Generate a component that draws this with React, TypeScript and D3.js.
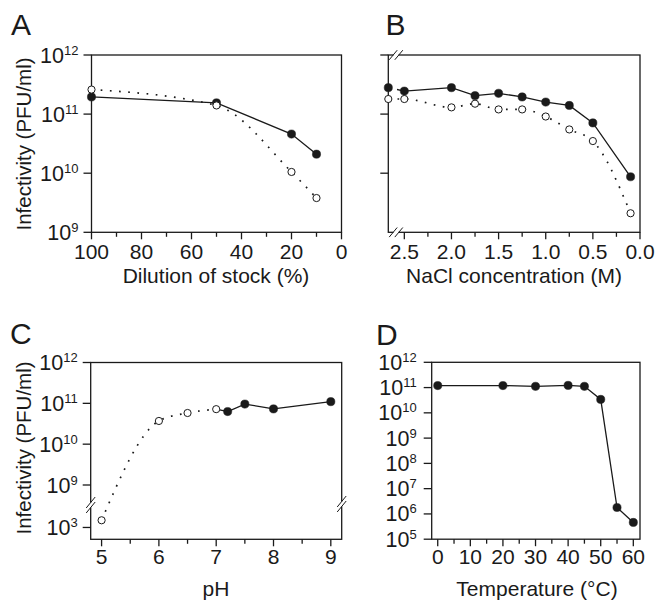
import React, { useEffect, useRef } from 'react';
import * as d3 from 'd3';

const W = 655;
const H = 603;
const FONT = '"Liberation Sans", Arial, Helvetica, sans-serif';
const INK = '#1a1a1a';

// A - dilution of stock (%)
const dilution = [100, 50, 20, 10];
const dilutionFilled = [1.95e11, 1.55e11, 4.6e10, 2.1e10];
const dilutionOpen = [2.6e11, 1.4e11, 1.05e10, 3.8e9];
const dilutionTicks = [100, 80, 60, 40, 20, 0];
const dilutionMinor = [90, 70, 50, 30, 10];

// B - NaCl concentration (M); first point sits beyond the axis break
const nacl = [2.67, 2.5, 2.0, 1.75, 1.5, 1.25, 1.0, 0.75, 0.5, 0.1];
const naclFilled = [2.8e11, 2.45e11, 2.8e11, 2.05e11, 2.25e11, 1.95e11, 1.6e11, 1.4e11, 7.1e10, 8.7e9];
const naclOpen = [1.8e11, 1.8e11, 1.3e11, 1.5e11, 1.2e11, 1.2e11, 9.1e10, 5.5e10, 3.5e10, 2.1e9];
const naclTicks = [2.5, 2.0, 1.5, 1.0, 0.5, 0.0];
const naclMinor = [2.25, 1.75, 1.25, 0.75, 0.25];

// C - pH
const phOpen = [5, 6, 6.5, 7];
const phOpenVal = [1.5e3, 3.7e10, 5.8e10, 7.2e10];
const phFilled = [7.2, 7.5, 8, 9];
const phFilledVal = [6.3e10, 9.6e10, 7.3e10, 1.1e11];
const phTicks = [5, 6, 7, 8, 9];
const phMinor = [5.5, 6.5, 7.5, 8.5];

// D - temperature
const temp = [0, 20, 30, 40, 45, 50, 55, 60];
const tempVal = [1.2e11, 1.2e11, 1.12e11, 1.22e11, 1.12e11, 3.4e10, 1.8e6, 4.6e5];
const tempTicks = [0, 10, 20, 30, 40, 50, 60];
const tempMinor = [5, 15, 25, 35, 45, 55];

// y tick exponents
const abExp = [12, 11, 10, 9];
const bExp = [12, 11, 10];
const cExp = [12, 11, 10, 9, 3];
const dExp = [12, 11, 10, 9, 8, 7, 6, 5];

type Pt = { x: number; y: number };
const zip = (xs: number[], ys: number[]): Pt[] => xs.map((x, i) => ({ x, y: ys[i] }));

function breakMark(g: any, cx: number, cy: number, vertical: boolean) {
  if (vertical) {
    g.append('rect').attr('x', cx - 2).attr('y', cy - 2.5).attr('width', 4).attr('height', 5).attr('fill', '#fff');
    [-2.5, 2.5].forEach(o => {
      g.append('line')
        .attr('x1', cx - 4.5).attr('y1', cy + o + 5.5)
        .attr('x2', cx + 4.5).attr('y2', cy + o - 5.5)
        .attr('stroke', INK).attr('stroke-width', 1);
    });
  } else {
    g.append('rect').attr('x', cx - 2.5).attr('y', cy - 2).attr('width', 5).attr('height', 4).attr('fill', '#fff');
    [-2.8, 2.8].forEach(o => {
      g.append('line')
        .attr('x1', cx + o - 4).attr('y1', cy + 4.8)
        .attr('x2', cx + o + 4).attr('y2', cy - 4.8)
        .attr('stroke', INK).attr('stroke-width', 1);
    });
  }
}

function drawPanel(svg: any, p: any) {
  const g = svg.append('g');
  const [x0, x1] = p.x.range();
  const { top, bottom } = p;

  g.append('rect')
    .attr('x', x0).attr('y', top)
    .attr('width', x1 - x0).attr('height', bottom - top)
    .attr('fill', 'none').attr('stroke', INK).attr('stroke-width', 1.3);

  // x ticks (outward)
  p.xTicks.forEach((t: number) => {
    g.append('line').attr('x1', p.x(t)).attr('x2', p.x(t))
      .attr('y1', bottom).attr('y2', bottom + 7)
      .attr('stroke', INK).attr('stroke-width', 1.3);
    g.append('text').attr('x', p.x(t)).attr('y', bottom + p.xLabelDy)
      .attr('text-anchor', 'middle').attr('font-size', 21).attr('fill', INK)
      .text(p.xFormat(t));
  });
  p.xMinor.forEach((t: number) => {
    g.append('line').attr('x1', p.x(t)).attr('x2', p.x(t))
      .attr('y1', bottom).attr('y2', bottom + 4.5)
      .attr('stroke', INK).attr('stroke-width', 1.3);
  });

  // y ticks
  p.yExp.forEach((e: number) => {
    const y = p.y(Math.pow(10, e));
    g.append('line').attr('x1', x0 - 8).attr('x2', x0)
      .attr('y1', y).attr('y2', y)
      .attr('stroke', INK).attr('stroke-width', 1.3);
    if (p.yLabels) {
      const txt = g.append('text').attr('x', x0 - p.yLabelGap).attr('y', y + 7.5)
        .attr('text-anchor', 'end').attr('font-size', 21.5).attr('fill', INK);
      txt.append('tspan').text('10');
      txt.append('tspan').attr('font-size', 13).attr('dy', -8).text(String(e));
    }
  });

  // axis titles
  g.append('text').attr('x', p.xTitleX).attr('y', p.xTitleY)
    .attr('text-anchor', 'middle').attr('font-size', 21).attr('fill', INK)
    .text(p.xTitle);
  if (p.yTitle) {
    g.append('text')
      .attr('transform', `translate(31,${p.yTitleY}) rotate(-90)`)
      .attr('text-anchor', 'middle').attr('font-size', 20.5).attr('fill', INK)
      .text(p.yTitle);
  }
  g.append('text').attr('x', p.letterX).attr('y', p.letterY)
    .attr('font-size', 30).attr('fill', INK).text(p.letter);

  return g;
}

function drawSeries(g: any, p: any, series: any[], clip?: string) {
  const byPx = (pts: Pt[]) => pts.slice().sort((a, b) => p.x(a.x) - p.x(b.x));
  const lineG = g.append('g');
  if (clip) lineG.attr('clip-path', `url(#${clip})`);
  series.forEach(s => {
    const gen = d3.line<Pt>()
      .x(d => p.x(d.x)).y(d => p.y(d.y))
      .curve(s.dotted ? d3.curveMonotoneX : d3.curveLinear);
    lineG.append('path')
      .attr('d', gen(byPx(s.line || s.pts)))
      .attr('fill', 'none').attr('stroke', INK)
      .attr('stroke-width', s.dotted ? 1.7 : 1.3)
      .attr('stroke-dasharray', s.dotted ? '1.7 7.5' : null);
  });
  // filled first, open on top
  series.slice().sort((a, b) => (a.open ? 1 : 0) - (b.open ? 1 : 0)).forEach(s => {
    g.selectAll(null).data(s.pts).enter().append('circle')
      .attr('cx', (d: Pt) => p.x(d.x)).attr('cy', (d: Pt) => p.y(d.y))
      .attr('r', s.open ? 3.6 : 4.1)
      .attr('fill', s.open ? '#fff' : INK)
      .attr('stroke', INK).attr('stroke-width', s.open ? 1 : 0.5);
  });
}

export default function App() {
  const ref = useRef<SVGSVGElement | null>(null);

  useEffect(() => {
    const svg = d3.select(ref.current);
    svg.selectAll('*').remove();
    svg.append('rect').attr('width', W).attr('height', H).attr('fill', '#fff');

    const yAB = d3.scaleLog().domain([1e9, 1e12]).range([232.3, 55]);
    const cLin = d3.scaleLinear().domain([9, 12]).range([485, 362.5]);
    const yC = (v: number) => {
      const l = Math.log10(v);
      return cLin(l >= 9 ? l : 7.96 + (l - 3));
    };
    const yD = d3.scaleLog().domain([1e5, 1e12]).range([539.2, 362.3]);

    const defs = svg.append('defs');
    defs.append('clipPath').attr('id', 'clipB')
      .append('rect').attr('x', 397).attr('y', 0).attr('width', 260).attr('height', 300);

    const fmtInt = d3.format('d');

    // Panel A
    const pA = {
      x: d3.scaleLinear().domain([100, 0]).range([91.5, 341.5]),
      y: yAB, top: 55, bottom: 232.3,
      xTicks: dilutionTicks, xMinor: dilutionMinor, xFormat: fmtInt, xLabelDy: 27,
      yExp: abExp, yLabels: true, yLabelGap: 13,
      xTitle: 'Dilution of stock (%)', xTitleX: 216, xTitleY: 283,
      yTitle: 'Infectivity (PFU/ml)', yTitleY: 144,
      letter: 'A', letterX: 11, letterY: 35,
    };
    const gA = drawPanel(svg, pA);
    drawSeries(gA, pA, [
      { pts: zip(dilution, dilutionFilled) },
      { pts: zip(dilution, dilutionOpen), open: true, dotted: true },
    ]);

    // Panel B
    const pB = {
      x: d3.scaleLinear().domain([2.67, 0]).range([388.3, 640]),
      y: yAB, top: 55, bottom: 232.3,
      xTicks: naclTicks, xMinor: naclMinor, xFormat: d3.format('.1f'), xLabelDy: 27,
      yExp: bExp, yLabels: false, yLabelGap: 13,
      xTitle: 'NaCl concentration (M)', xTitleX: 514, xTitleY: 283,
      yTitle: null, yTitleY: 0,
      letter: 'B', letterX: 385.5, letterY: 35,
    };
    const gB = drawPanel(svg, pB);
    drawSeries(gB, pB, [
      { pts: zip(nacl, naclFilled) },
      { pts: zip(nacl, naclOpen), open: true, dotted: true },
    ], 'clipB');
    breakMark(gB, 396, 55, false);
    breakMark(gB, 396, 232.3, false);

    // Panel C
    const pC = {
      x: d3.scaleLinear().domain([4.81, 9.19]).range([90.7, 341.7]),
      y: yC, top: 362.5, bottom: 539.3,
      xTicks: phTicks, xMinor: phMinor, xFormat: fmtInt, xLabelDy: 25,
      yExp: cExp, yLabels: true, yLabelGap: 13,
      xTitle: 'pH', xTitleX: 216, xTitleY: 596,
      yTitle: 'Infectivity (PFU/ml)', yTitleY: 448,
      letter: 'C', letterX: 10, letterY: 344,
    };
    const gC = drawPanel(svg, pC);
    const openC = zip(phOpen, phOpenVal);
    const filledC = zip(phFilled, phFilledVal);
    drawSeries(gC, pC, [
      { pts: filledC, line: [openC[openC.length - 1], ...filledC] },
      { pts: openC, open: true, dotted: true },
    ]);
    breakMark(gC, 90.7, 505, true);
    breakMark(gC, 341.7, 504, true);

    // Panel D
    const pD = {
      x: d3.scaleLinear().domain([-1.85, 62.05]).range([431.7, 640]),
      y: yD, top: 362.3, bottom: 539.2,
      xTicks: tempTicks, xMinor: tempMinor, xFormat: fmtInt, xLabelDy: 25,
      yExp: dExp, yLabels: true, yLabelGap: 15,
      xTitle: 'Temperature (°C)', xTitleX: 537, xTitleY: 596,
      yTitle: null, yTitleY: 0,
      letter: 'D', letterX: 376, letterY: 345,
    };
    const gD = drawPanel(svg, pD);
    drawSeries(gD, pD, [{ pts: zip(temp, tempVal) }]);
  }, []);

  return (
    <svg
      ref={ref}
      width={W}
      height={H}
      style={{ position: 'absolute', left: 0, top: 0, fontFamily: FONT }}
    />
  );
}
